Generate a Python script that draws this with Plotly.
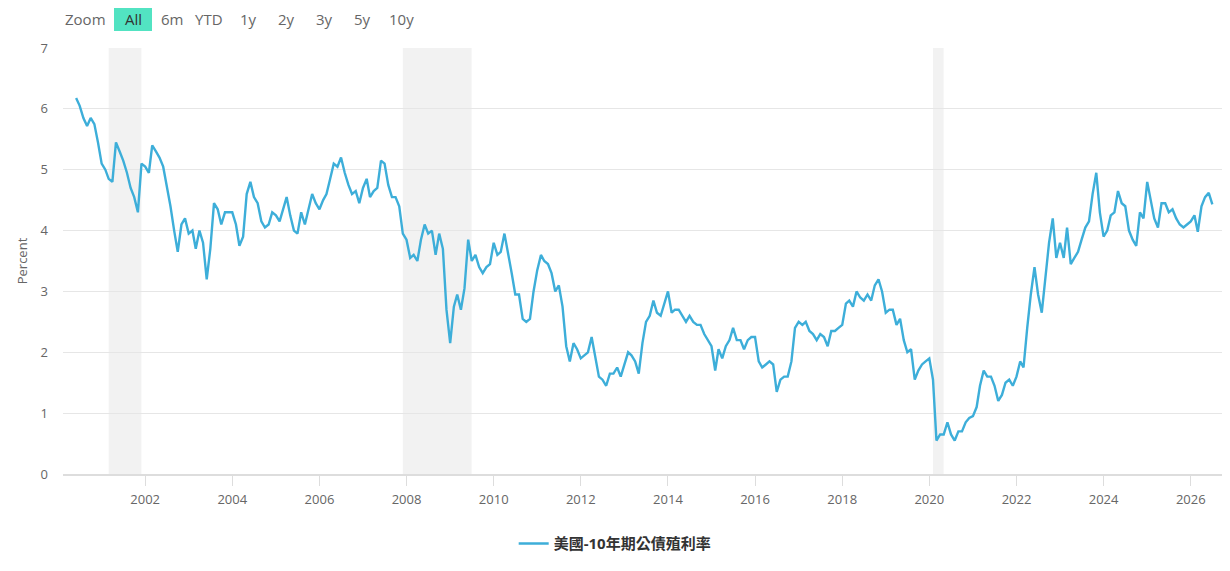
import pandas as pd
import plotly.graph_objects as go

# monthly readings of the 10y yield (value near the 1st of each month), Jun 2000 -> Jul 2026
yields = [
    6.18, 6.05, 5.85, 5.72, 5.85, 5.75, 5.45,                          # 2000 Jun-Dec
    5.10, 5.00, 4.85, 4.80, 5.45, 5.30, 5.15, 4.95, 4.70, 4.55, 4.30, 5.10,  # 2001
    5.05, 4.95, 5.40, 5.30, 5.20, 5.05, 4.75, 4.40, 4.00, 3.65, 4.10, 4.20,  # 2002
    3.95, 4.00, 3.70, 4.00, 3.80, 3.20, 3.70, 4.45, 4.35, 4.10, 4.30, 4.30,  # 2003
    4.30, 4.10, 3.75, 3.90, 4.60, 4.80, 4.55, 4.45, 4.15, 4.05, 4.10, 4.30,  # 2004
    4.25, 4.15, 4.35, 4.55, 4.25, 4.00, 3.95, 4.30, 4.10, 4.35, 4.60, 4.45,  # 2005
    4.35, 4.50, 4.60, 4.85, 5.10, 5.05, 5.20, 4.95, 4.75, 4.60, 4.65, 4.45,  # 2006
    4.70, 4.85, 4.55, 4.65, 4.70, 5.15, 5.10, 4.75, 4.55, 4.55, 4.40, 3.95,  # 2007
    3.85, 3.55, 3.60, 3.50, 3.85, 4.10, 3.95, 4.00, 3.60, 3.95, 3.70, 2.70,  # 2008
    2.15, 2.75, 2.95, 2.70, 3.05, 3.85, 3.50, 3.60, 3.40, 3.30, 3.40, 3.45,  # 2009
    3.80, 3.60, 3.65, 3.95, 3.65, 3.30, 2.95, 2.95, 2.55, 2.50, 2.55, 3.00,  # 2010
    3.35, 3.60, 3.50, 3.45, 3.30, 3.00, 3.10, 2.75, 2.10, 1.85, 2.15, 2.05,  # 2011
    1.90, 1.95, 2.00, 2.25, 1.95, 1.60, 1.55, 1.45, 1.65, 1.65, 1.75, 1.60,  # 2012
    1.80, 2.00, 1.95, 1.85, 1.65, 2.15, 2.50, 2.60, 2.85, 2.65, 2.60, 2.80,  # 2013
    3.00, 2.65, 2.70, 2.70, 2.60, 2.50, 2.60, 2.50, 2.45, 2.45, 2.30, 2.20,  # 2014
    2.10, 1.70, 2.05, 1.90, 2.10, 2.20, 2.40, 2.20, 2.20, 2.05, 2.20, 2.25,  # 2015
    2.25, 1.85, 1.75, 1.80, 1.85, 1.80, 1.35, 1.55, 1.60, 1.60, 1.85, 2.40,  # 2016
    2.50, 2.45, 2.50, 2.35, 2.30, 2.20, 2.30, 2.25, 2.10, 2.35, 2.35, 2.40,  # 2017
    2.45, 2.80, 2.85, 2.75, 3.00, 2.90, 2.85, 2.95, 2.85, 3.10, 3.20, 3.00,  # 2018
    2.65, 2.70, 2.70, 2.45, 2.55, 2.20, 2.00, 2.05, 1.55, 1.70, 1.80, 1.85,  # 2019
    1.90, 1.55, 0.55, 0.65, 0.65, 0.85, 0.65, 0.55, 0.70, 0.70, 0.85, 0.92,  # 2020
    0.95, 1.10, 1.45, 1.70, 1.60, 1.60, 1.45, 1.20, 1.30, 1.50, 1.55, 1.45,  # 2021
    1.60, 1.85, 1.75, 2.40, 2.95, 3.40, 2.95, 2.65, 3.20, 3.80, 4.20, 3.55,  # 2022
    3.80, 3.55, 4.05, 3.45, 3.55, 3.65, 3.85, 4.05, 4.15, 4.60, 4.95, 4.30,  # 2023
    3.90, 4.00, 4.25, 4.30, 4.65, 4.45, 4.40, 4.00, 3.85, 3.75, 4.30, 4.20,  # 2024
    4.80, 4.50, 4.20, 4.05, 4.45, 4.45, 4.30, 4.35, 4.20, 4.10, 4.05, 4.10,  # 2025
    4.15, 4.25, 3.98, 4.40, 4.55, 4.62, 4.43,                          # 2026 Jan-Jul
]
first_month = "2000-06-01"

recession_start = ["2001-03-01", "2007-12-01", "2020-02-01"]
recession_end = ["2001-11-30", "2009-06-30", "2020-04-30"]

zoom_buttons = ["All", "6m", "YTD", "1y", "2y", "3y", "5y", "10y"]
series_name = "美國-10年期公債殖利率"

dates = pd.date_range(first_month, periods=len(yields), freq="MS")

font_family = "Open Sans, Noto Sans CJK TC, sans-serif"
grey = "#666666"

fig = go.Figure()
fig.add_trace(go.Scatter(
    x=dates, y=yields, mode="lines", name="<b>" + series_name + "</b>",
    line=dict(color="#3daed9", width=2.4),
))

for s, e in zip(recession_start, recession_end):
    fig.add_shape(type="rect", xref="x", yref="paper", x0=s, x1=e, y0=0, y1=1,
                  fillcolor="#f2f2f2", line_width=0, layer="below")

# range selector drawn as text, "All" highlighted
btn_x = [133, 172, 209, 248, 286, 324, 362, 401]
fig.add_annotation(text="Zoom", xref="paper", yref="paper", x=(85 - 63) / 1159, y=1.0,
                   xanchor="center", yanchor="middle", yshift=29, showarrow=False,
                   font=dict(size=15, color=grey))
fig.add_shape(type="rect", xref="paper", yref="paper",
              x0=(114 - 63) / 1159, x1=(152 - 63) / 1159,
              y0=1 + 17 / 426, y1=1 + 40 / 426,
              fillcolor="#52e3c2", line_width=0, layer="below")
for i, b in enumerate(zoom_buttons):
    fig.add_annotation(text=b, xref="paper", yref="paper", x=(btn_x[i] - 63) / 1159, y=1.0,
                       xanchor="center", yanchor="middle", yshift=29, showarrow=False,
                       font=dict(size=15, color="#333333" if b == "All" else grey))

fig.update_layout(
    width=1230, height=571,
    margin=dict(l=63, r=8, t=48, b=97),
    paper_bgcolor="white", plot_bgcolor="white",
    font=dict(family=font_family, color=grey, size=13),
    showlegend=True,
    legend=dict(orientation="h", x=0.476, xanchor="center", y=-0.125, yanchor="top",
                itemwidth=30, font=dict(size=15, color="#333333")),
)
fig.update_xaxes(
    type="date", range=["2000-02-12", "2026-09-20"],
    tick0="2000-01-01", dtick="M24", tickformat="%Y",
    showgrid=False, showline=True, linecolor="#dddddd", linewidth=1.5,
    ticks="outside", ticklen=10, tickcolor="#dddddd", ticklabelstandoff=3,
    tickfont=dict(size=13, color=grey), zeroline=False, automargin=False,
)
fig.update_yaxes(
    range=[0, 7], dtick=1, showgrid=True, gridcolor="#e6e6e6", zeroline=False,
    title=dict(text="Percent", font=dict(size=13, color=grey), standoff=10),
    tickfont=dict(size=13, color=grey), ticklabelstandoff=14, automargin=False,
)

fig.write_html("out.html", config={"displayModeBar": False},
               post_script="document.body.style.margin='0';")
